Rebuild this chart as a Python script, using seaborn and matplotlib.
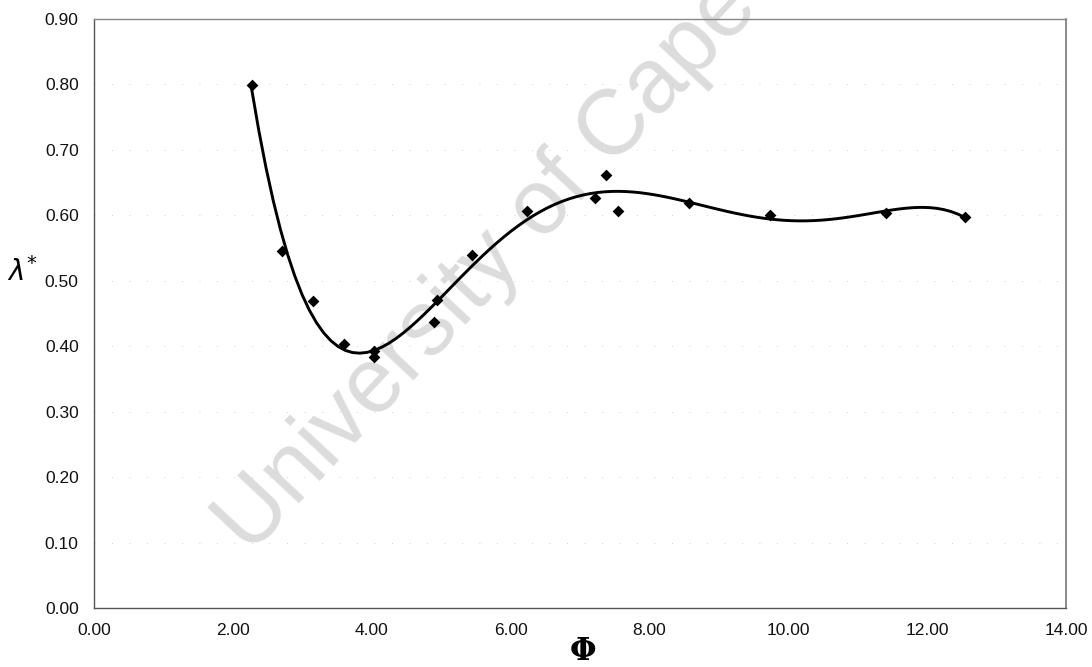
import matplotlib
matplotlib.use("Agg")
import matplotlib.pyplot as plt
import seaborn as sns
import numpy as np
import pandas as pd
from matplotlib.ticker import FormatStrFormatter

# ---- data ----
phi = [2.27, 2.71, 3.16, 3.60, 4.03, 4.03, 4.90, 4.94, 5.45, 6.23,
       7.22, 7.37, 7.55, 8.57, 9.74, 11.41, 12.55]
lam = [0.799, 0.545, 0.469, 0.403, 0.392, 0.383, 0.437, 0.471, 0.539, 0.606,
       0.627, 0.661, 0.607, 0.619, 0.601, 0.604, 0.597]
x_ticks = [0, 2, 4, 6, 8, 10, 12, 14]
y_ticks = [0.0, 0.1, 0.2, 0.3, 0.4, 0.5, 0.6, 0.7, 0.8, 0.9]
watermark = "University of Cape Town"

df = pd.DataFrame({"phi": phi, "lam": lam})

sns.set_theme(style="white")
plt.rcParams["font.family"] = ["Liberation Sans", "DejaVu Sans"]

fig = plt.figure(figsize=(10.92, 6.67), dpi=100)
ax = fig.add_axes([94 / 1092, 1 - 608 / 667, (1066 - 94) / 1092, (608 - 19) / 667])
ax.set_zorder(1)
ax.patch.set_alpha(0)

# watermark (behind the axes content)
fig.text(250 / 1092, 1 - 556 / 667, watermark, rotation=47, rotation_mode="anchor",
         ha="left", va="baseline", fontsize=66, color="#dcdcdc", zorder=-5,
         family=["Liberation Sans", "DejaVu Sans"])

# faint dotted gridlines
for yv in y_ticks[1:-1]:
    ax.axhline(yv, color="#c4c4c4", lw=0.6, ls=(0, (1, 20)), zorder=1)

sns.regplot(data=df, x="phi", y="lam", order=6, ci=None, scatter=False,
            line_kws=dict(color="black", lw=2.1), ax=ax)
sns.scatterplot(data=df, x="phi", y="lam", marker="D", s=36, color="black",
                edgecolor="black", linewidth=0, ax=ax, zorder=5)

ax.set_xlim(0, 14)
ax.set_ylim(0, 0.9)
ax.set_xticks(x_ticks)
ax.set_yticks(y_ticks)
ax.xaxis.set_major_formatter(FormatStrFormatter("%.2f"))
ax.yaxis.set_major_formatter(FormatStrFormatter("%.2f"))
ax.tick_params(axis="both", labelsize=12.5, colors="#111111", length=0)
ax.tick_params(axis="x", pad=11)
ax.tick_params(axis="y", pad=11)
ax.set_xlabel("")
ax.set_ylabel("")

for side in ["left", "bottom"]:
    ax.spines[side].set_color("#555555")
    ax.spines[side].set_linewidth(1.0)
ax.spines["top"].set_color("#888888")
ax.spines["top"].set_linestyle((0, (2, 1)))
ax.spines["top"].set_linewidth(1.0)
ax.spines["right"].set_color("#777777")
ax.spines["right"].set_linewidth(1.2)

fig.text(7 / 1092, 1 - 272 / 667, r"$\lambda^{*}$", fontsize=20, ha="left",
         va="center", color="black")
fig.text(583 / 1092, 1 - 652 / 667, "Φ", fontsize=22, fontweight="bold",
         ha="center", va="center", color="black", family=["DejaVu Serif"])

fig.savefig("out.png", dpi=100)
